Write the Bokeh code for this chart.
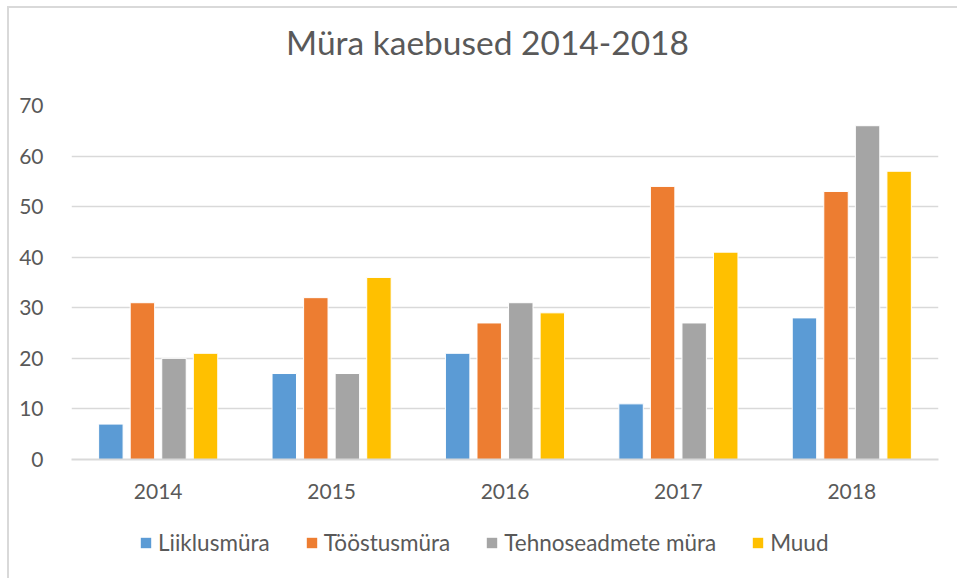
from bokeh.plotting import figure
from bokeh.layouts import column
from bokeh.models import FactorRange, Legend, LegendItem, Label, SingleIntervalTicker
from bokeh.transform import dodge
from bokeh.embed import file_html
from bokeh.resources import INLINE
from bokeh.models import ColumnDataSource

years = ["2014", "2015", "2016", "2017", "2018"]
series = ["Liiklusmüra", "Tööstusmüra", "Tehnoseadmete müra", "Muud"]
liiklusmura = [7, 17, 21, 11, 28]
toostusmura = [31, 32, 27, 54, 53]
tehnoseadmete_mura = [20, 17, 31, 27, 66]
muud = [21, 36, 29, 41, 57]
colors = ["#5B9BD5", "#ED7D31", "#A5A5A5", "#FFC000"]
title_text = "Müra kaebused 2014-2018"

FONT = "Lato"
TXT = "#595959"
GRID = "#D9D9D9"

src = ColumnDataSource(dict(year=years, s0=liiklusmura, s1=toostusmura,
                            s2=tehnoseadmete_mura, s3=muud))

bg = ("linear-gradient(#D9D9D9,#D9D9D9) 7px 6px / 2px 100% no-repeat, "
      "linear-gradient(#D9D9D9,#D9D9D9) 7px 6px / 100% 2px no-repeat, white")


def strip(h):
    f = figure(x_range=FactorRange(factors=years), y_range=(0, 70),
               width=957, height=h, output_backend="svg", toolbar_location=None,
               min_border=0, min_border_left=0, min_border_right=0,
               min_border_top=0, min_border_bottom=0,
               x_axis_location=None, y_axis_location=None)
    f.outline_line_color = None
    f.background_fill_alpha = 0
    f.border_fill_alpha = 0
    f.xgrid.grid_line_color = None
    f.ygrid.grid_line_color = None
    return f


# title strip
top = strip(90)
top.add_layout(Label(x=416, y=49, x_units="screen", y_units="screen", text=title_text,
                     text_align="center", text_baseline="alphabetic",
                     text_font=FONT, text_font_size="33.5px", text_color=TXT))

# main chart
p = figure(x_range=FactorRange(factors=years), y_range=(0, 70),
           width=957, height=430, output_backend="svg", toolbar_location=None,
           min_border_left=71, min_border_right=19, min_border_top=15,
           min_border_bottom=61)
p.outline_line_color = None
p.background_fill_color = "white"
p.border_fill_alpha = 0

offsets = [-0.273, -0.091, 0.091, 0.273]
for i, (name, col) in enumerate(zip(series, colors)):
    p.vbar(x=dodge("year", offsets[i], range=p.x_range), top="s%d" % i,
           width=0.141, source=src, fill_color=col, line_color="white", line_width=1)

p.yaxis.ticker = SingleIntervalTicker(interval=10)
p.yaxis.axis_line_color = None
p.yaxis.major_tick_line_color = None
p.yaxis.minor_tick_line_color = None
p.yaxis.major_label_text_font = FONT
p.yaxis.major_label_text_font_size = "21px"
p.yaxis.major_label_text_color = TXT
p.yaxis.major_label_standoff = 22

p.xaxis.axis_line_color = GRID
p.xaxis.axis_line_width = 2
p.xaxis.major_tick_line_color = None
p.xaxis.minor_tick_line_color = None
p.xaxis.major_label_text_font = FONT
p.xaxis.major_label_text_font_size = "21px"
p.xaxis.major_label_text_color = TXT
p.xaxis.major_label_standoff = 18

p.xgrid.grid_line_color = None
p.ygrid.grid_line_color = GRID
p.ygrid.grid_line_width = 1.5

# legend strip
q = strip(58)
rs = []
for i, (name, col) in enumerate(zip(series, colors)):
    r = q.vbar(x=dodge("year", offsets[i], range=q.x_range), top="s%d" % i,
               width=0.141, source=src, fill_color=col, line_color=None, visible=False)
    rs.append(r)

legend = Legend(items=[LegendItem(label=n, renderers=[r]) for n, r in zip(series, rs)],
                orientation="horizontal", location=(68, 22),
                glyph_width=13, glyph_height=13, label_standoff=6, spacing=35,
                label_text_font=FONT, label_text_font_size="22.5px", label_text_color=TXT,
                border_line_color=None, background_fill_alpha=0, padding=0, margin=0)
q.add_layout(legend, "center")

layout = column(top, p, q, spacing=0, styles={"background": bg})
open("out.html", "w").write(file_html(layout, INLINE))
